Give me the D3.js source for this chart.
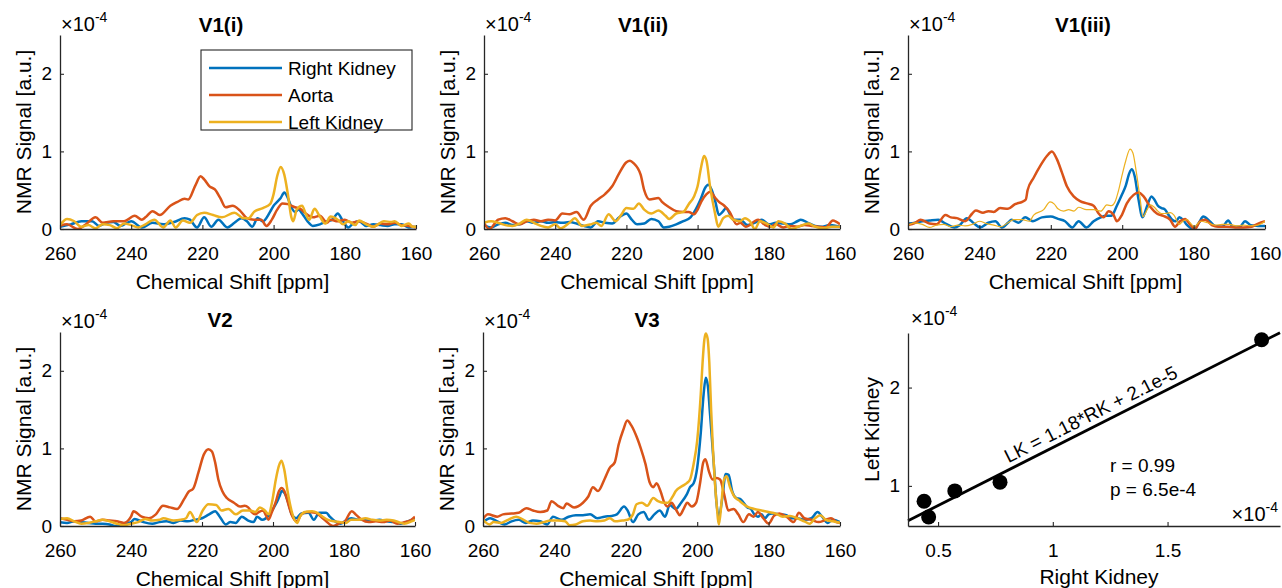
<!DOCTYPE html>
<html>
<head>
<meta charset="utf-8">
<script src="https://cdn.jsdelivr.net/npm/d3@7"></script>
<style>
  body { margin: 0; background: #fff; }
  svg { display: block; }
  text { font-family: "Liberation Sans", Arial, Helvetica, sans-serif; fill: #000; }
</style>
</head>
<body>
<svg id="fig" width="1282" height="588"></svg>
<script>
// ---------------- data (signal in units of 1e-4) ----------------
const ppmTicks = [260, 240, 220, 200, 180, 160];
const signalTicks = [0, 1, 2];
const seriesNames = ["Right Kidney", "Aorta", "Left Kidney"];
const seriesColors = ["#0072BD", "#D95319", "#EDB120"];
const panelTitles = ["V1(i)", "V1(ii)", "V1(iii)", "V2", "V3"];

// spectra: [chemical shift (ppm), NMR signal]
const v1i_rk = [[260,.03],[257,.06],[254,.1],[251,.1],[249,.04],[247,.08],[245,.09],[243,.04],[240,.1],[237,.02],[234,.08],[231,.06],[228,.09],[225,.14],[223.5,.12],[221.5,.02],[219.5,.15],[217.5,.03],[215.5,.12],[213,.02],[211,.08],[209,.14],[207.5,.1],[206,.03],[204.5,.14],[203,.1],[201,.22],[200,.3],[199,.35],[198,.4],[197,.47],[196,.4],[195,.28],[194,.22],[193,.25],[192,.2],[190.5,.1],[189,.04],[187,.06],[185,.1],[183.5,.12],[182,.2],[180.5,.1],[179,.02],[177.5,.08],[176,.1],[174,.04],[172,.06],[170,.05],[168,.04],[166,.06],[164,.06],[162,.02],[160,.03]];
const v1i_ao = [[260,.04],[258,.06],[255,0],[253,.05],[250,.15],[248,.08],[245,.1],[242,.1],[239,.17],[237,.12],[236,.15],[234,.23],[232,.18],[229,.3],[227,.35],[225,.39],[224,.38],[222,.56],[220.5,.68],[219.5,.64],[218,.55],[216.5,.51],[215,.4],[213.5,.28],[211.5,.3],[209.5,.24],[207.5,.14],[205.5,.12],[203.5,.12],[202,.04],[200.5,.12],[199,.25],[197.5,.33],[196,.32],[194,.28],[192.5,.26],[191,.2],[189,.15],[187,.17],[185,.08],[184,.12],[182,.1],[180,.12],[178,.08],[176,.1],[174,.07],[172,.03],[170,.07],[168,.06],[166,.08],[164,.05],[162,.04],[160,.02]];
const v1i_lk = [[260,.05],[258,.13],[256,.1],[254,.03],[252,.05],[250,.01],[248,.06],[246,.05],[244,.01],[242,.07],[240,.05],[238,.02],[236,.06],[233.5,.12],[231,.02],[229,.11],[227.5,.02],[225.5,.11],[223.5,.08],[221.5,.18],[219.5,.21],[217,.18],[214.5,.15],[211,.21],[208.5,.14],[207,.14],[205.5,.22],[203,.27],[201,.32],[200,.45],[199,.68],[198,.8],[197,.7],[196,.45],[195,.15],[194.5,.1],[193.5,.25],[192,.3],[191,.2],[190,.12],[188.5,.26],[187,.16],[185.5,.07],[184,.16],[182,.12],[180.5,.06],[179,.1],[177,.05],[176,.11],[174,.06],[172,.03],[169,.1],[167,.09],[166,.1],[164,.04],[162,.07],[161,.03],[160,.03]];

const v1ii_rk = [[260,.05],[258,.02],[256,.06],[254,.08],[252,.05],[250,.06],[248,.1],[246,.08],[244,.1],[242,.08],[240,.09],[238,.08],[236,.09],[234,.07],[232,.04],[230,.02],[228,.1],[226,.08],[224,.07],[222,.15],[220,.2],[218.5,.12],[217,.06],[215,.07],[213,.13],[211,.1],[209.5,.02],[208,.03],[206,.06],[204,.1],[202,.15],[200,.3],[199,.4],[198,.52],[197,.57],[196,.5],[195,.35],[194,.18],[193,.22],[192,.27],[191,.2],[190,.12],[188,.12],[186,.05],[184,.08],[182,.12],[180,.06],[178,.08],[176,.07],[174,.06],[172,.1],[171,.12],[169,.08],[167,.04],[165,.03],[163,.05],[161,.04],[160,.03]];
const v1ii_ao = [[260,.08],[258.5,0],[256,.12],[254,.14],[252,.1],[250,.06],[248,.1],[246,.12],[244,.1],[242,.12],[240,.11],[238,.2],[236,.19],[234,.22],[232,.12],[230,.3],[228,.38],[226,.45],[224,.55],[222,.72],[220,.86],[219,.88],[218,.85],[216,.7],[215,.5],[213.5,.38],[211,.4],[210,.35],[208,.28],[206,.23],[204,.22],[202.5,.22],[201,.19],[200,.25],[199,.35],[197.5,.45],[196.5,.48],[195,.4],[194,.35],[192.5,.3],[191,.22],[189,.06],[188,.08],[186.5,.03],[183,.12],[181,.05],[179.5,.03],[178,.06],[176,.02],[174,.04],[172,.03],[170,.05],[168,.04],[166,.03],[164,.02],[162,.11],[160,.06]];
const v1ii_lk = [[260,.08],[258,.1],[256,.08],[254,.05],[252,.04],[250,.07],[248,.12],[246,.08],[244,.04],[242,.02],[240,.06],[238.5,.01],[236,.08],[234.5,.14],[232.5,.04],[230,.06],[228.5,.08],[227,.04],[225,.19],[223,.1],[221.5,.18],[220,.27],[218,.26],[216.5,.33],[215,.25],[213,.2],[211,.24],[209,.17],[208,.13],[206,.2],[204,.22],[202.5,.32],[201,.42],[200,.55],[199,.8],[198.2,.94],[197.5,.88],[196.5,.55],[195.1,.2],[194.2,.03],[192.8,.14],[191.4,.17],[190,.12],[188.1,.1],[186.7,.14],[185.3,.1],[183.9,0],[182.5,.1],[180.6,.07],[178.7,.02],[177.3,.1],[175.4,.07],[173.6,0],[171.2,.04],[168.9,.07],[167,.03],[164.7,.01],[162.3,.03],[160,.03]];

const v1iii_rk = [[260,.07],[258,.08],[256,.1],[254,.11],[251.5,.12],[249.5,.07],[247,.02],[245.5,.05],[243.5,.14],[241.5,.07],[239.8,.02],[237.5,.08],[235.5,.1],[233.7,.02],[232,.08],[231,.12],[229,.08],[227.2,.15],[225,.1],[222.5,.15],[220,.16],[218,.13],[216,.1],[214,.02],[212.2,.1],[210,.02],[208,.1],[206,.15],[204.5,.17],[203,.17],[201.5,.3],[200,.45],[199,.56],[198,.72],[197.3,.77],[196.5,.68],[195.5,.4],[194.3,.15],[193,.3],[191.8,.42],[191,.38],[190,.3],[189,.27],[188,.25],[187,.18],[186,.12],[185,.1],[184,.15],[183,.12],[182,.06],[180,0],[178.5,.08],[177.3,.16],[175.5,.1],[174,.04],[172,.03],[170.3,.11],[169,.03],[167,.03],[165.6,.1],[164,.05],[162,.04],[160,.04]];
const v1iii_ao = [[260,.05],[258,.08],[256.5,.12],[254,.07],[252,.06],[249.5,.18],[248,.15],[246.3,.14],[244,.1],[242,.2],[241,.24],[239,.21],[237.5,.23],[236,.22],[234.2,.27],[232,.26],[230,.32],[228,.35],[227,.38],[226.5,.5],[224.8,.66],[223,.81],[221.1,.94],[219.7,1.0],[218.3,.9],[216.9,.73],[215.5,.55],[213.6,.42],[211.8,.36],[209.9,.33],[208,.3],[206.6,.2],[205.2,.15],[203.8,.23],[202.4,.18],[201.5,.1],[200.1,.18],[198.7,.33],[196.8,.44],[195.5,.47],[194,.42],[192.2,.29],[190.3,.2],[188.5,.17],[186.6,.12],[185.2,.03],[183.8,.1],[182.4,.13],[181,.06],[179.6,0],[178.2,.1],[176.8,.12],[174.9,.05],[173.1,.03],[170.7,.03],[168.4,.02],[166.1,.02],[163.7,.03],[161.9,.07],[160,.1]];
const v1iii_lk = [[260,.05],[258,.08],[256,.06],[254,.02],[252,.05],[250,.06],[248,.03],[246,.05],[244,.04],[242,.06],[240,.1],[238,.07],[236,.05],[234,.03],[232,.08],[230.4,.12],[228,.12],[226,.1],[224.8,.18],[222,.25],[220.2,.35],[219,.32],[218,.26],[216.4,.23],[215,.25],[213.5,.23],[212.2,.28],[210,.25],[208,.25],[206,.23],[204.3,.31],[203,.3],[202,.35],[201,.5],[200,.7],[199,.88],[197.8,1.03],[197,.98],[196,.72],[195,.4],[194.2,.16],[193,.25],[192.2,.31],[191,.28],[190,.23],[189,.2],[188,.2],[186.5,.21],[185.5,.18],[184,.06],[183,.1],[181.8,.12],[181,.08],[179.8,.03],[178,.1],[176,.08],[174,.05],[172,.06],[170,.06],[168,.04],[166,.05],[164,.04],[162,.05],[160,.1]];

const v2_rk = [[260,.05],[258,.04],[256,.06],[254,.05],[252,.04],[250,.03],[248,.03],[246,.02],[244.5,0],[242,.03],[240,.05],[239,.09],[236.5,.05],[234,.03],[232,.05],[230,.06],[228,.04],[226,.07],[224,.06],[222,.08],[220,.1],[218,.15],[216.3,.19],[215,.12],[213.3,.02],[212,.05],[210.5,.04],[208.8,.12],[207,.07],[205.5,.05],[204.5,.12],[203,.08],[201,.15],[200,.22],[199,.3],[198.2,.38],[197.5,.45],[196.7,.42],[195.7,.3],[194.7,.15],[193.5,.1],[192,.16],[190,.17],[188.5,.08],[187,.17],[185,.17],[184,.12],[182.5,.06],[181,.03],[179.5,.07],[178,.1],[176,.08],[174,.08],[172,.07],[170,.08],[168,.06],[166,.05],[164,.03],[162,.06],[160,.1]];
const v2_ao = [[260,.1],[258,.08],[256,.06],[254,.07],[251.5,.12],[250,.06],[248,.08],[246,.07],[244,.06],[242,.04],[240,.12],[239.3,.19],[237,.12],[235,.1],[233,.15],[231,.26],[229,.24],[227,.22],[225,.35],[223.8,.44],[222.5,.48],[221,.69],[219.5,.92],[218.2,.99],[217.2,.96],[216.3,.82],[215.4,.6],[214.3,.45],[213,.36],[211,.3],[209.3,.25],[208,.26],[207,.24],[206,.18],[205,.15],[204,.18],[202.8,.2],[202,.14],[201.3,.08],[200.3,.18],[199.3,.3],[198.3,.45],[197.6,.49],[196.8,.45],[195.8,.3],[194.8,.15],[193.3,.06],[192,.15],[190.5,.18],[188,.17],[186,.1],[185,.06],[184,.02],[183,0],[181,.04],[180,.05],[177.8,.19],[176.5,.14],[175,.08],[173,.05],[171,.06],[169,.05],[167,.07],[165,.03],[163,.05],[161,.08],[160,.12]];
const v2_lk = [[260,.09],[258,.1],[256,.06],[254,.03],[252,.04],[250,.06],[248,.08],[246,.06],[244,.03],[242,.01],[240,.03],[238,.05],[236,.09],[234,.07],[232,.08],[230.9,.1],[228,.07],[226,.08],[224.5,.1],[223.4,.18],[221.5,.05],[219.8,.2],[218.2,.28],[216,.27],[214.5,.2],[212.6,.22],[210.5,.15],[208.5,.2],[206.5,.2],[205,.18],[203.7,.24],[202.3,.2],[201.2,.15],[200.3,.3],[199.2,.6],[198.3,.78],[197.6,.84],[196.8,.72],[195.9,.45],[194.8,.2],[193.2,.04],[192.4,.12],[191,.18],[189,.19],[187.5,.17],[186,.12],[184.5,.08],[183,.06],[181,.05],[179.5,.04],[178,.08],[176,.08],[174,.1],[172,.08],[170,.07],[168,.08],[166,.07],[164,.04],[163,.03],[161,.06],[160,.08]];

const v3_rk = [[260,.05],[258,.1],[256,.06],[254,.02],[252,.06],[250,.08],[248,.04],[246,.07],[244,.06],[242,.02],[240.4,.12],[238,.08],[236,.12],[234,.14],[232,.14],[230,.15],[228,.1],[226,.12],[224,.13],[222.5,.15],[220.5,.25],[219.5,.2],[218,.05],[216.5,.15],[215,.18],[213.5,.08],[212,.15],[210.5,.2],[209,.12],[207.7,.27],[206,.22],[204.5,.3],[203,.4],[202,.5],[201,.55],[200,.75],[199,1.2],[198.2,1.7],[197.6,1.91],[197,1.8],[196.5,1.5],[196,1.2],[195.2,.7],[194.6,.3],[193.9,.12],[193,.35],[192,.67],[191.2,.66],[190.2,.45],[189,.36],[188,.35],[187,.3],[186,.24],[185,.22],[184,.15],[183,.12],[182,.15],[181,.1],[180,.15],[179,.16],[177,.15],[175,.14],[174,.1],[172,.1],[170,.08],[168,.1],[166.3,.18],[165,.12],[163.5,.04],[162,.08],[160,.05]];
const v3_ao = [[260,.09],[258.6,.15],[256,.12],[254.4,.15],[252,.16],[250,.17],[247.9,.23],[246,.2],[244,.18],[242,.2],[240.8,.32],[239,.26],[237.5,.23],[236.6,.29],[234.5,.24],[232,.3],[230.5,.38],[229.2,.5],[227.8,.45],[226,.6],[224.5,.75],[223.1,.82],[222,1.05],[220.7,1.24],[219.6,1.36],[218.5,1.3],[216.8,1.13],[215.8,1.0],[214.5,.8],[213.3,.56],[212.3,.5],[211.4,.55],[210.3,.45],[209.2,.3],[208.3,.25],[207.2,.3],[205.8,.2],[204.9,.14],[203.8,.22],[202.8,.3],[201.5,.25],[200.3,.3],[199.2,.55],[198.3,.82],[197.7,.86],[196.7,.7],[195.7,.6],[194.6,.62],[193.6,.6],[192.4,.4],[191.3,.2],[189.8,.22],[188.5,.15],[187.1,.05],[185.5,.15],[184.2,.12],[183,.18],[181.5,.1],[180,.03],[178.5,.13],[177,.16],[175,.12],[173,.05],[171.5,.17],[170,.1],[168,.08],[166,.05],[164,.08],[162.5,.1],[161,.05],[160,.04]];
const v3_lk = [[260,.08],[258.2,.02],[257,.05],[255,.04],[253,.08],[250.7,.12],[249,.09],[247,.04],[245,.03],[243,.05],[241,.07],[239,.07],[237,.06],[235.7,.01],[234,.02],[232,.06],[230,.07],[228,.06],[226,.07],[224.5,.1],[223,.06],[221,.07],[219.5,.08],[218,.15],[217,.28],[215.5,.3],[214,.26],[212.3,.36],[211,.32],[209.5,.3],[208.3,.3],[207,.37],[206,.45],[204,.52],[203,.55],[202,.6],[201,.8],[200,1.1],[199,1.7],[198.5,2.1],[198,2.4],[197.6,2.48],[197.1,2.42],[196.6,2.1],[196.1,1.5],[195.6,1.0],[195.1,.6],[194.6,.3],[193.9,.02],[193.2,.3],[192.6,.58],[191.8,.64],[190.8,.5],[189.6,.38],[188.3,.33],[187,.28],[186,.25],[184,.22],[182,.2],[180,.18],[178,.16],[176,.12],[174,.13],[172,.1],[170,.06],[168.5,.03],[167,.1],[165.5,.14],[164,.08],[162,.06],[160,.04]];

const rightKidney = [v1i_rk, v1ii_rk, v1iii_rk, v2_rk, v3_rk];
const aorta = [v1i_ao, v1ii_ao, v1iii_ao, v2_ao, v3_ao];
const leftKidney = [v1i_lk, v1ii_lk, v1iii_lk, v2_lk, v3_lk];

// peak signal per dataset, right vs left kidney
const rkPeak = [0.439, 0.459, 0.573, 0.770, 1.910];
const lkPeak = [0.844, 0.684, 0.949, 1.038, 2.487];
const fitSlope = 1.18;
const fitIntercept = 0.21;           // 2.1e-5 expressed in 1e-4 units
const fitLabel = "LK = 1.18*RK + 2.1e-5";
const statLabels = ["r = 0.99", "p = 6.5e-4"];
const scatterXTicks = [0.5, 1, 1.5];
const scatterYTicks = [1, 2];

// ---------------- layout ----------------
const spectraBoxes = [
  { x0: 60,  x1: 416,  y0: 35,  y1: 229, titleX: 221,  labelX: 232.5 },
  { x0: 484, x1: 840,  y0: 35,  y1: 229, titleX: 643,  labelX: 657 },
  { x0: 908, x1: 1265, y0: 35,  y1: 229, titleX: 1083, labelX: 1085.5 },
  { x0: 60,  x1: 415,  y0: 332, y1: 526, titleX: 220,  labelX: 232.5 },
  { x0: 483, x1: 840,  y0: 332, y1: 526, titleX: 647,  labelX: 656 }
];
const scatterBox = { x0: 908, x1: 1280, y0: 333, y1: 526, labelX: 1099 };
const scatterXLim = [0.369, 1.99];
const scatterYLim = [0.592, 2.555];
const signalLim = [0, 2.5];
const ppmLim = [260, 160];

const TICK_FS = 19, LABEL_FS = 21, TITLE_FS = 20.5, LEGEND_FS = 19;
const AXIS_COLOR = "#262626";

const svg = d3.select("#fig");

function styleAxis(g) {
  g.attr("font-size", TICK_FS).attr("font-family", null);
  g.select(".domain").attr("stroke", AXIS_COLOR).attr("stroke-width", 1.3);
  g.selectAll(".tick line").attr("stroke", AXIS_COLOR).attr("stroke-width", 1.1);
  g.selectAll(".tick text").attr("fill", "#000");
}

function drawAxes(g, x, y, xTicks, yTicks) {
  const [yb] = y.range();
  const [xl] = x.range();
  g.append("g").attr("transform", `translate(0,${yb})`)
    .call(d3.axisBottom(x).tickValues(xTicks).tickSizeInner(-4).tickSizeOuter(0)
      .tickPadding(18).tickFormat(d => String(d)))
    .call(styleAxis);
  g.append("g").attr("transform", `translate(${xl},0)`)
    .call(d3.axisLeft(y).tickValues(yTicks).tickSizeInner(-4).tickSizeOuter(0)
      .tickPadding(8).tickFormat(d => String(d)))
    .call(styleAxis);
}

function exponentLabel(g, x, y, anchor) {
  const t = g.append("text").attr("x", x).attr("y", y)
    .attr("font-size", 20).attr("text-anchor", anchor);
  t.append("tspan").text("\u00d710");
  t.append("tspan").attr("dy", -9).attr("font-size", 14).text("-4");
}

function yLabel(g, x, yc, text) {
  g.append("text").attr("transform", `translate(${x},${yc}) rotate(-90)`)
    .attr("text-anchor", "middle").attr("font-size", LABEL_FS).text(text);
}

// ---------------- spectra panels ----------------
spectraBoxes.forEach((b, i) => {
  const g = svg.append("g");
  const x = d3.scaleLinear().domain(ppmLim).range([b.x0, b.x1]);
  const y = d3.scaleLinear().domain(signalLim).range([b.y1, b.y0]);

  const clipId = "clip" + i;
  g.append("clipPath").attr("id", clipId).append("rect")
    .attr("x", b.x0).attr("y", b.y0 - 2).attr("width", b.x1 - b.x0).attr("height", b.y1 - b.y0 + 2);

  const line = d3.line().x(d => x(d[0])).y(d => y(d[1])).curve(d3.curveMonotoneX);
  const sets = [rightKidney[i], aorta[i], leftKidney[i]];
  const plot = g.append("g").attr("clip-path", `url(#${clipId})`);
  sets.forEach((s, k) => {
    const thin = (i === 2 && k === 2);
    plot.append("path").datum(s).attr("d", line)
      .attr("fill", "none").attr("stroke", seriesColors[k])
      .attr("stroke-width", thin ? 1.2 : 2.5)
      .attr("stroke-linejoin", "round");
  });

  drawAxes(g, x, y, ppmTicks, signalTicks);
  exponentLabel(g, b.x0 + 1, b.y0 - 4, "start");

  g.append("text").attr("x", b.titleX).attr("y", b.y0 - (i < 3 ? 3.5 : 5))
    .attr("text-anchor", "middle").attr("font-size", TITLE_FS).attr("font-weight", "bold")
    .text(panelTitles[i]);
  g.append("text").attr("x", b.labelX).attr("y", b.y1 + 59.5)
    .attr("text-anchor", "middle").attr("font-size", LABEL_FS).text("Chemical Shift [ppm]");
  yLabel(g, b.x0 - 29, (b.y0 + b.y1) / 2, "NMR Signal [a.u.]");
});

// ---------------- legend (first panel) ----------------
{
  const lg = svg.append("g").attr("transform", "translate(201,50)");
  lg.append("rect").attr("x", 0).attr("y", 0).attr("width", 211).attr("height", 80)
    .attr("fill", "#fff").attr("stroke", AXIS_COLOR).attr("stroke-width", 1.1);
  seriesNames.forEach((name, k) => {
    const yy = 18 + k * 27;
    lg.append("line").attr("x1", 8).attr("x2", 81).attr("y1", yy).attr("y2", yy)
      .attr("stroke", seriesColors[k]).attr("stroke-width", 2.3);
    lg.append("text").attr("x", 87).attr("y", yy).attr("dy", "0.35em")
      .attr("font-size", LEGEND_FS).text(name);
  });
}

// ---------------- scatter: left vs right kidney ----------------
{
  const b = scatterBox;
  const g = svg.append("g");
  const x = d3.scaleLinear().domain(scatterXLim).range([b.x0, b.x1]);
  const y = d3.scaleLinear().domain(scatterYLim).range([b.y1, b.y0]);

  const xs = x.domain();
  const fit = xs.map(v => [v, fitSlope * v + fitIntercept]);
  g.append("path").datum(fit)
    .attr("d", d3.line().x(d => x(d[0])).y(d => y(d[1])))
    .attr("stroke", "#000").attr("stroke-width", 2.8).attr("fill", "none");

  g.selectAll("circle.pt").data(d3.zip(rkPeak, lkPeak)).join("circle")
    .attr("class", "pt")
    .attr("cx", d => x(d[0])).attr("cy", d => y(d[1])).attr("r", 7.5).attr("fill", "#000");

  drawAxes(g, x, y, scatterXTicks, scatterYTicks);
  exponentLabel(g, b.x0 + 3, b.y0 - 8, "start");
  exponentLabel(g, b.x1 - 2, b.y1 - 5, "end");

  // equation written along the fitted line
  const rkAt = 1.19;
  const px = x(rkAt), py = y(fitSlope * rkAt + fitIntercept);
  const ang = Math.atan2(y(fitSlope * 1 + fitIntercept) - y(fitSlope * 0 + fitIntercept), x(1) - x(0)) * 180 / Math.PI;
  const off = 6;
  const rad = ang * Math.PI / 180;
  g.append("text")
    .attr("transform", `translate(${px + off * Math.sin(rad)},${py - off * Math.cos(rad)}) rotate(${ang})`)
    .attr("text-anchor", "middle").attr("font-size", LEGEND_FS).text(fitLabel);

  statLabels.forEach((s, k) => {
    g.append("text").attr("x", 1110).attr("y", 472 + k * 23.5)
      .attr("font-size", LEGEND_FS).text(s);
  });

  g.append("text").attr("x", b.labelX).attr("y", b.y1 + 58)
    .attr("text-anchor", "middle").attr("font-size", LABEL_FS).text("Right Kidney");
  yLabel(g, b.x0 - 29, (b.y0 + b.y1) / 2, "Left Kidney");
}
</script>
</body>
</html>
